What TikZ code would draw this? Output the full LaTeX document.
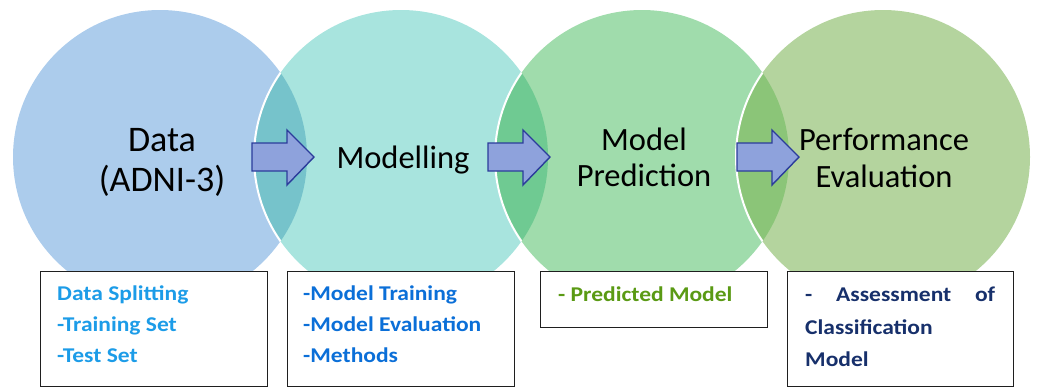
\documentclass[tikz,border=0pt]{standalone}
\usepackage{fontspec}
\setmainfont{Carlito}
\newfontfamily\listfont{Carlito}[FakeStretch=1.12]
\usepackage{xcolor}
\usetikzlibrary{positioning, calc}

% stage colours
\definecolor{stageA}{HTML}{ACCCEC}
\definecolor{stageB}{HTML}{A8E4DE}
\definecolor{stageC}{HTML}{A0DCAC}
\definecolor{stageD}{HTML}{B4D49E}
\definecolor{lensAB}{HTML}{76C3CB}
\definecolor{lensBC}{HTML}{6FCA92}
\definecolor{lensCD}{HTML}{8BC578}
\definecolor{arrowfill}{HTML}{8EA2DC}
\definecolor{arrowline}{HTML}{2B3C9B}
\definecolor{listA}{HTML}{1C9CE8}
\definecolor{listB}{HTML}{0B6FD8}
\definecolor{listC}{HTML}{5A9A14}
\definecolor{listD}{HTML}{17306B}

\tikzset{
  stage label/.style={font=\fontsize{32.5}{37}\selectfont, align=center, text=black, inner sep=0pt},
  list box/.style={draw=black!88, line width=1.4pt, fill=white, anchor=north west, inner sep=0pt},
  list text/.style={font=\listfont\bfseries\fontsize{21}{31}\selectfont, align=left, anchor=north west, inner sep=0pt},
  flow arrow/.style={fill=arrowfill, draw=arrowline, line width=1.4pt, line join=miter},
  lens edge/.style={draw=white, line width=2pt},
}

\begin{document}
\begin{tikzpicture}[x=1pt, y=-1pt]
\useasboundingbox (0,0) rectangle (1039,388);
% Four stage circles
\foreach \cx/\col in {160/stageA, 401/stageB, 642/stageC, 883/stageD} {
  \fill[\col] (\cx,157) circle[radius=147pt];
}
% Overlaps of neighbouring circles, with the white rim of the later one
\foreach \ca/\cb/\col in {160/401/lensAB, 401/642/lensBC, 642/883/lensCD} {
  \begin{scope}
    \clip (\ca,157) circle[radius=147pt];
    \fill[\col] (\cb,157) circle[radius=147pt];
    \draw[lens edge] (\cb,157) circle[radius=147pt];
  \end{scope}
}
% Block arrows between the stages
\foreach \ax in {252,488,737} {
  \draw[flow arrow] (\ax,143) -- ++(35,0) -- ++(0,-13) -- ++(27,27) -- ++(-27,28) -- ++(0,-14) -- ++(-35,0) -- cycle;
}
% Stage titles
\node[stage label, font=\fontsize{36}{40}\selectfont] (data) at (162,162) {Data\\(ADNI-3)};
\node[stage label] (modelling) at (403,160) {Modelling};
\node[stage label, font=\fontsize{32.5}{36}\selectfont] (predict) at (644,157.5) {Model\\Prediction};
\node[stage label] (perf) at (884,158) {Performance\\Evaluation};
% Boxes under the circles
\node[list box, minimum width=227pt, minimum height=115pt] (box1) at (40,271) {};
\node[list box, minimum width=227pt, minimum height=115pt] (box2) at (287,271) {};
\node[list box, minimum width=227pt, minimum height=56pt] (box3) at (540,271) {};
\node[list box, minimum width=226pt, minimum height=115pt] (box4) at (787,271) {};
% Box texts
\node[list text, text=listA] (txt1) at (57,286) {Data Splitting\\-Training Set\\-Test Set};
\node[list text, text=listB] (txt2) at (303,286) {-Model Training\\-Model Evaluation\\-Methods};
\node[list text, text=listC] (txt3) at (558,287) {- Predicted Model};
\node[list text, text=listD, font=\listfont\bfseries\fontsize{21}{32.5}\selectfont] (txt4) at (805,287)
  {\makebox[190pt][s]{- Assessment of}\\Classification\\Model};
\end{tikzpicture}
\end{document}
